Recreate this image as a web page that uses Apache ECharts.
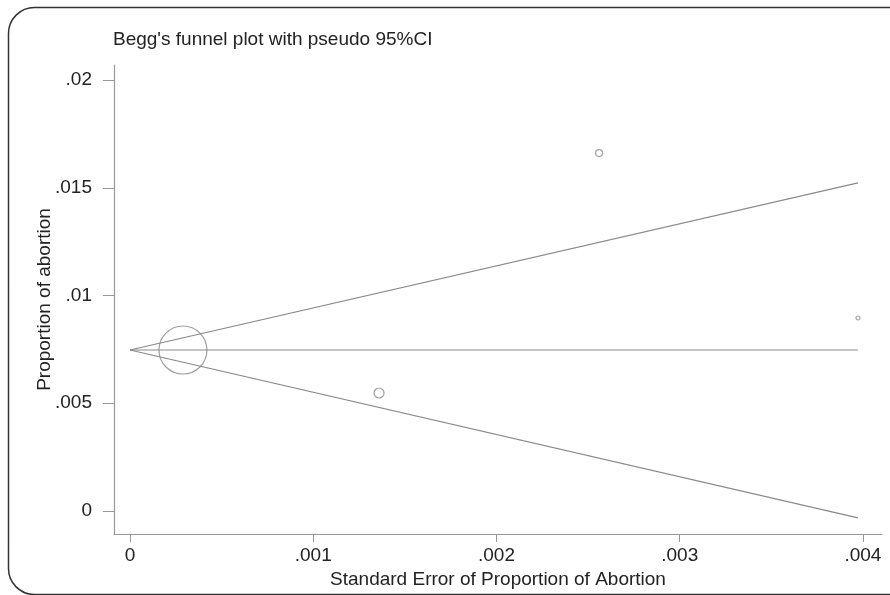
<!DOCTYPE html>
<html>
<head>
<meta charset="utf-8">
<script src="https://cdn.jsdelivr.net/npm/echarts@6/dist/echarts.min.js"></script>
<style>
  html, body { margin: 0; padding: 0; background: #ffffff; }
  #chartContainer { width: 890px; height: 595px; }
</style>
</head>
<body>
<div id="chartContainer"></div>
<script>
// studies: standard error vs proportion, marker size ~ weight
var STUDY_SE = [0.000289, 0.001359, 0.00256, 0.003973];
var STUDY_PROP = [0.00747, 0.005476, 0.01661, 0.008956];
var STUDY_SIZE = [48, 10, 7, 4];

// pseudo 95% CI limits read at se = 0 and se = max
var LIMIT_SE = [0, 0.003973];
var POOLED = [0.00747, 0.00747];
var UPPER = [0.00747, 0.01523];
var LOWER = [0.00747, -0.00032];

var X_TICKS = [0, 0.001, 0.002, 0.003, 0.004];
var Y_TICKS = [0, 0.005, 0.01, 0.015, 0.02];

var FONT = "'Liberation Sans', Arial, sans-serif";
var LINE_COLOR = '#8a8a8a';

function stataLabel(v) {
  if (v === 0) return '0';
  return String(+v.toFixed(4)).replace(/^0/, '');
}

function pairs(xs, ys) {
  return xs.map((x, i) => [x, ys[i]]);
}

var CHART;
var CHART_OPTION = {
  backgroundColor: '#ffffff',
  animation: false,
  title: {
    text: "Begg's funnel plot with pseudo 95%CI",
    left: 108,
    top: 25,
    textStyle: { fontFamily: FONT, fontSize: 19, fontWeight: 'normal', color: '#222' }
  },
  graphic: [
    {
      type: 'rect',
      shape: { x: 8.5, y: 7.5, width: 905, height: 587, r: 26 },
      style: { fill: 'none', stroke: '#333', lineWidth: 1.5 },
      silent: true
    }
  ],
  grid: {
    left: 114,
    right: 8,
    top: 65,
    bottom: 61,
    containLabel: false
  },
  xAxis: {
    type: 'value',
    min: -0.0000873,
    max: 0.004104,
    name: 'Standard Error of Proportion of Abortion',
    nameLocation: 'middle',
    nameGap: 36,
    nameMoveOverlap: false,
    nameTextStyle: { fontFamily: FONT, fontSize: 19, color: '#222' },
    axisLine: { show: true, onZero: false, lineStyle: { color: '#999', width: 1.2 } },
    axisTick: { show: true, length: 8, customValues: X_TICKS, lineStyle: { color: '#999' } },
    axisLabel: {
      customValues: X_TICKS,
      formatter: stataLabel,
      margin: 12,
      fontFamily: FONT, fontSize: 19, color: '#222'
    },
    splitLine: { show: false }
  },
  yAxis: {
    type: 'value',
    min: -0.001067,
    max: 0.020696,
    name: 'Proportion of abortion',
    nameLocation: 'middle',
    nameGap: 60,
    nameMoveOverlap: false,
    nameTextStyle: { fontFamily: FONT, fontSize: 19, color: '#222' },
    axisLine: { show: true, onZero: false, lineStyle: { color: '#999', width: 1.2 } },
    axisTick: { show: true, length: 11, customValues: Y_TICKS, lineStyle: { color: '#999' } },
    axisLabel: {
      customValues: Y_TICKS,
      formatter: stataLabel,
      margin: 22,
      fontFamily: FONT, fontSize: 19, color: '#222'
    },
    splitLine: { show: false }
  },
  series: [
    {
      name: 'pooled',
      type: 'line',
      data: pairs(LIMIT_SE, POOLED),
      symbol: 'none',
      lineStyle: { color: LINE_COLOR, width: 1.2 }
    },
    {
      name: 'upper',
      type: 'line',
      data: pairs(LIMIT_SE, UPPER),
      symbol: 'none',
      lineStyle: { color: LINE_COLOR, width: 1.2 }
    },
    {
      name: 'lower',
      type: 'line',
      data: pairs(LIMIT_SE, LOWER),
      symbol: 'none',
      lineStyle: { color: LINE_COLOR, width: 1.2 }
    },
    {
      name: 'studies',
      type: 'scatter',
      data: STUDY_SE.map((se, i) => ({ value: [se, STUDY_PROP[i]], symbolSize: STUDY_SIZE[i] })),
      symbol: 'circle',
      itemStyle: { color: 'rgba(0,0,0,0)', borderColor: '#888', borderWidth: 1.2 }
    }
  ]
};

window.onload = _ => {
  CHART = echarts.init(document.getElementById('chartContainer'), null, { renderer: 'canvas' });
  CHART.setOption(CHART_OPTION);
};
</script>
</body>
</html>
